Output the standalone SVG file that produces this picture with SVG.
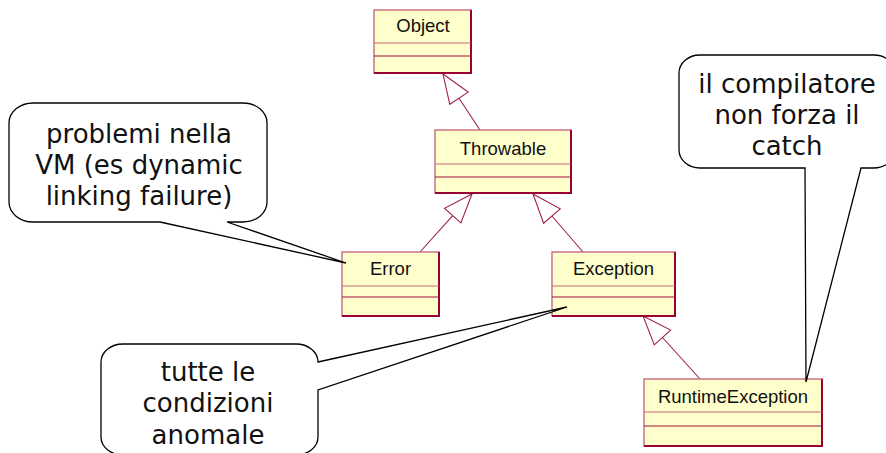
<svg xmlns="http://www.w3.org/2000/svg" width="886" height="453" viewBox="0 0 886 453">
<style>
.box{fill:#FFFFCC;stroke:#C8697F;stroke-width:1.4}
.edge{stroke:#990033;stroke-width:2;fill:none}
.sep1{stroke:#C8697F;stroke-width:1.2}
.sep2{stroke:#A01040;stroke-width:1.2}
.name{font-family:"Liberation Sans",Arial,sans-serif;font-size:18.5px;fill:#111;text-anchor:middle}
.conn{stroke:#A0204A;stroke-width:1.1;fill:none}
.head{stroke:#A0204A;stroke-width:1.1;fill:#fff}
.callout{fill:#fff;stroke:#000;stroke-width:1.3;stroke-linejoin:miter}
.ctext{font-family:"DejaVu Sans",Verdana,sans-serif;font-size:26px;fill:#111;text-anchor:middle}
</style>
<rect width="886" height="453" fill="#fff"/>
<g id="connectors">
<line class="conn" x1="459" y1="98.2" x2="480" y2="130"/>
<polygon class="head" points="443,74 468.2,92.1 449.8,104.3"/>
<line class="conn" x1="452.7" y1="215.6" x2="420" y2="252"/>
<polygon class="head" points="472,194 460.9,222.9 444.5,208.3"/>
<line class="conn" x1="551.9" y1="216" x2="583" y2="252"/>
<polygon class="head" points="533,194 560.2,208.8 543.6,223.2"/>
<line class="conn" x1="662.5" y1="337.5" x2="700" y2="379"/>
<polygon class="head" points="643,316 670.6,330.1 654.3,344.9"/>
</g>
<g id="node-object">
<rect class="box" x="374" y="10" width="97" height="63"/>
<polyline class="edge" points="374,73 471,73 471,10"/>
<line class="sep1" x1="374" y1="43" x2="471" y2="43"/>
<line class="sep2" x1="374" y1="56" x2="471" y2="56"/>
<text class="name" x="423" y="32">Object</text>
</g>
<g id="node-throwable">
<rect class="box" x="435" y="130" width="136" height="63"/>
<polyline class="edge" points="435,193 571,193 571,130"/>
<line class="sep1" x1="435" y1="164" x2="571" y2="164"/>
<line class="sep2" x1="435" y1="177" x2="571" y2="177"/>
<text class="name" x="503" y="155">Throwable</text>
</g>
<g id="node-error">
<rect class="box" x="342" y="252" width="97" height="64"/>
<polyline class="edge" points="342,316 439,316 439,252"/>
<line class="sep1" x1="342" y1="286" x2="439" y2="286"/>
<line class="sep2" x1="342" y1="297" x2="439" y2="297"/>
<text class="name" x="390.5" y="275">Error</text>
</g>
<g id="node-exception">
<rect class="box" x="552" y="252" width="123" height="64"/>
<polyline class="edge" points="552,316 675,316 675,252"/>
<line class="sep1" x1="552" y1="286" x2="675" y2="286"/>
<line class="sep2" x1="552" y1="297" x2="675" y2="297"/>
<text class="name" x="613.5" y="275">Exception</text>
</g>
<g id="node-runtimeexception">
<rect class="box" x="644" y="379" width="178" height="67"/>
<polyline class="edge" points="644,446 822,446 822,379"/>
<line class="sep1" x1="644" y1="412" x2="822" y2="412"/>
<line class="sep2" x1="644" y1="426" x2="822" y2="426"/>
<text class="name" x="733" y="403">RuntimeException</text>
</g>
<g id="note-error">
<path class="callout" d="M160,222 L346,263 L227,222 L243,222 A24,20 0 0 0 267,202 L267,123 A24,20 0 0 0 243,103 L33,103 A24,20 0 0 0 9,123 L9,202 A24,20 0 0 0 33,222 Z"/>
<text class="ctext" x="139" y="143">problemi nella</text>
<text class="ctext" x="139" y="174">VM (es dynamic</text>
<text class="ctext" x="139" y="205">linking failure)</text>
</g>
<g id="note-exception">
<path class="callout" d="M318,362 L567,307 L318,390 L318,437 A22,18 0 0 1 296,455 L123,455 A22,18 0 0 1 101,437 L101,362 A22,18 0 0 1 123,344 L296,344 A22,18 0 0 1 318,362 Z"/>
<text class="ctext" x="208" y="381">tutte le</text>
<text class="ctext" x="208" y="412">condizioni</text>
<text class="ctext" x="208" y="444">anomale</text>
</g>
<g id="note-runtime">
<path class="callout" d="M805,168 L806,382 L861,168 L874,168 A21,18 0 0 0 895,150 L895,73 A21,18 0 0 0 874,55 L700,55 A21,18 0 0 0 679,73 L679,150 A21,18 0 0 0 700,168 Z"/>
<text class="ctext" x="787" y="93">il compilatore</text>
<text class="ctext" x="787" y="124">non forza il</text>
<text class="ctext" x="787" y="155">catch</text>
</g>
</svg>
